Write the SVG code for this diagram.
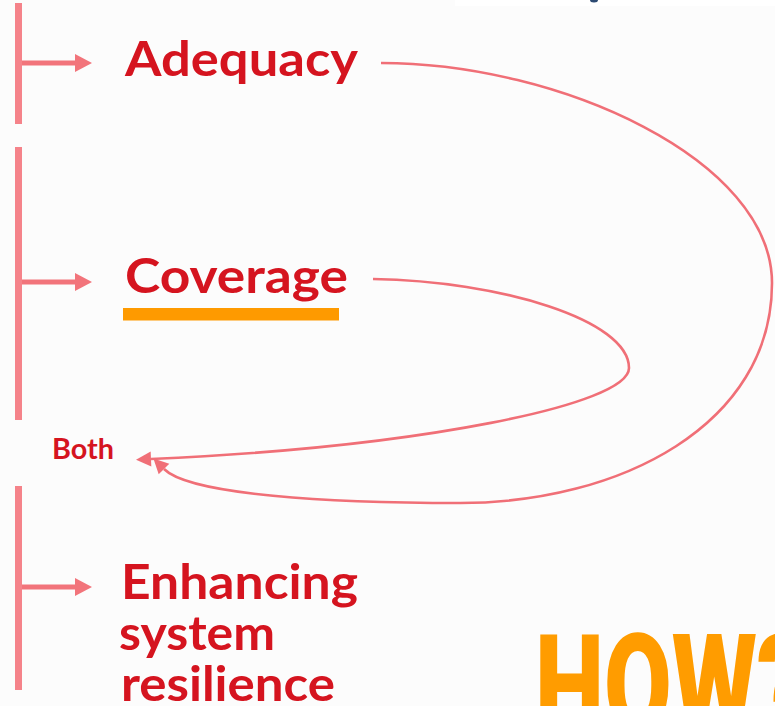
<svg xmlns="http://www.w3.org/2000/svg" width="775" height="706" viewBox="0 0 775 706">
  <style>
    .bar { fill: #f5838a; }
    .harrow line { stroke: #f2747b; stroke-width: 5; }
    .harrow polygon { fill: #f2747b; }
    .lbl { font-family: "Lato", "Liberation Sans", sans-serif; font-weight: 700; fill: #d5141f; }
    .curve { fill: none; stroke: #f06f77; stroke-width: 2.6; marker-end: url(#head); }
  </style>
  <defs>
    <marker id="head" markerUnits="userSpaceOnUse" markerWidth="16" markerHeight="16" refX="0" refY="7.5" orient="auto" overflow="visible">
      <path d="M0,0 L15,7.5 L0,15 Z" fill="#f06f77"/>
    </marker>
  </defs>
  <rect x="0" y="0" width="775" height="706" fill="#fcfcfc"/>
  <rect x="455" y="0" width="320" height="6" fill="#ffffff"/>
  <ellipse cx="594" cy="0" rx="4" ry="2.5" fill="#2d4a72"/>

  <g id="bars">
    <rect class="bar" x="15" y="3" width="7" height="121"/>
    <rect class="bar" x="15" y="147" width="7" height="273"/>
    <rect class="bar" x="15" y="486" width="7" height="204"/>
  </g>

  <g id="node-adequacy">
    <g class="harrow"><line x1="22" y1="63" x2="76" y2="63"/><polygon points="75,54 92,63 75,72"/></g>
    <text class="lbl" x="125" y="76" font-size="48" textLength="233" lengthAdjust="spacingAndGlyphs">Adequacy</text>
  </g>

  <g id="node-coverage">
    <g class="harrow"><line x1="22" y1="282" x2="76" y2="282"/><polygon points="75,273 92,282 75,291"/></g>
    <text class="lbl" x="125" y="293" font-size="48" textLength="223" lengthAdjust="spacingAndGlyphs">Coverage</text>
    <rect x="123" y="308" width="216" height="12.5" fill="#fe9a00"/>
  </g>

  <g id="node-both">
    <text class="lbl" x="52" y="459" font-size="29" textLength="62" lengthAdjust="spacingAndGlyphs">Both</text>
  </g>

  <g id="node-enhancing">
    <g class="harrow"><line x1="22" y1="587" x2="76" y2="587"/><polygon points="75,578 92,587 75,596"/></g>
    <text class="lbl" font-size="48">
      <tspan x="121" y="599" textLength="237" lengthAdjust="spacingAndGlyphs">Enhancing</tspan>
      <tspan x="119" y="650" textLength="156" lengthAdjust="spacingAndGlyphs">system</tspan>
      <tspan x="121" y="701" textLength="214" lengthAdjust="spacingAndGlyphs">resilience</tspan>
    </text>
  </g>

  <g id="node-how">
    <text x="535" y="733" font-family="Roboto, 'Liberation Sans', sans-serif" font-weight="900" font-size="140" fill="#ff9c00" textLength="272" lengthAdjust="spacingAndGlyphs">HOW?</text>
  </g>

  <g id="connectors">
    <path class="curve" d="M381,63 C560,63 772,160 772,283 C772,425 620,503 460,503 C330,503 190,495 164,469"/>
    <path class="curve" d="M373,279 C500,281 629,320 629,368 C629,405 420,447 151,459"/>
  </g>
</svg>
